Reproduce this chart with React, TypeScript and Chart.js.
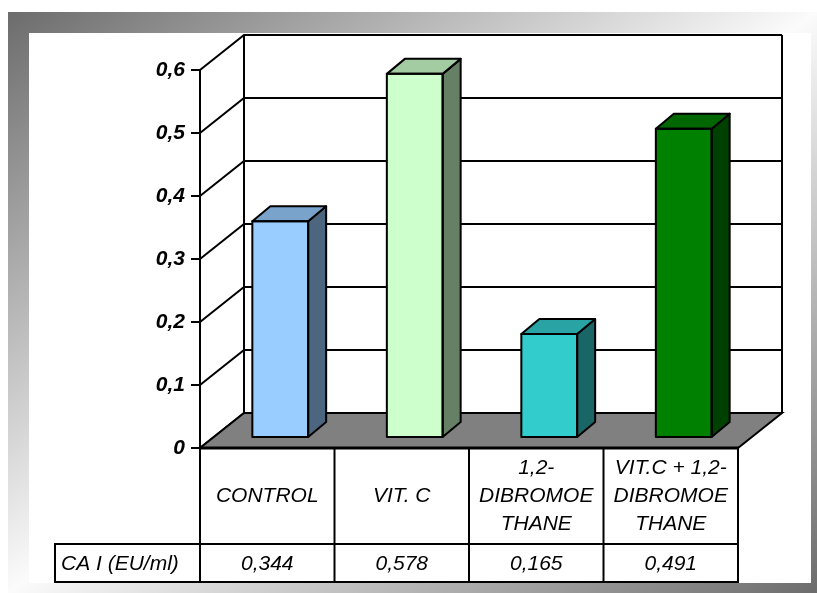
import React, { useEffect, useRef } from 'react';
import { Chart, registerables } from 'chart.js';

Chart.register(...registerables);

// ---- data ----
const categories: string[][] = [
  ['CONTROL'],
  ['VIT. C'],
  ['1,2-', 'DIBROMOE', 'THANE'],
  ['VIT.C + 1,2-', 'DIBROMOE', 'THANE'],
];
const values: number[] = [0.344, 0.578, 0.165, 0.491];
const seriesName = 'CA I (EU/ml)';
const yTickLabels: string[] = ['0', '0,1', '0,2', '0,3', '0,4', '0,5', '0,6'];

// ---- styles ----
const frontColors = ['#99CCFF', '#CCFFCC', '#33CCCC', '#008000'];
const topColors = ['#7AA3CC', '#A3CCA3', '#29A3A3', '#006600'];
const sideColors = ['#4D6680', '#668066', '#1A6666', '#004000'];

const W = 817;
const H = 593;
const DEPTH = { x: 44, y: -35 };
const BAR_OFF = { x: 13, y: -10 };
const BAR_DEPTH = { x: 18, y: -15 };
const FONT = '"Liberation Sans", Arial, sans-serif';
const TABLE_ROW1_BOTTOM = 544;
const TABLE_BOTTOM = 582;
const TABLE_LEFT = 55;

const threeD = {
  id: 'threeD',
  beforeDraw(chart: any) {
    const { ctx, chartArea: a, scales } = chart;
    const y = scales.y;
    ctx.save();
    ctx.fillStyle = '#fff';
    ctx.fillRect(0, 0, W, H);
    // gradient frame
    const fx0 = 8, fy0 = 12, fx1 = W, fy1 = H;
    const cx = (fx0 + fx1) / 2, cy = (fy0 + fy1) / 2;
    const ax = fx1 - fx0, ay = fy1 - fy0;
    const n = Math.hypot(ax, ay);
    const dx = ay / n, dy = ax / n;
    const t = (fx0 - cx) * dx + (fy0 - cy) * dy;
    const g = ctx.createLinearGradient(cx + t * dx, cy + t * dy, cx - t * dx, cy - t * dy);
    g.addColorStop(0, '#6c6c6c');
    g.addColorStop(0.5, '#fbfbfb');
    g.addColorStop(1, '#6c6c6c');
    ctx.fillStyle = g;
    ctx.fillRect(fx0, fy0, fx1 - fx0, fy1 - fy0);
    ctx.fillStyle = '#fff';
    ctx.fillRect(29, 33, 811 - 29, 583 - 33);

    const L = a.left, R = a.right, B = a.bottom, T = a.top;
    ctx.strokeStyle = '#000';
    ctx.lineWidth = 2;
    ctx.lineJoin = 'miter';
    // gridlines on side wall + back wall
    y.ticks.forEach((tk: any) => {
      const py = y.getPixelForValue(tk.value);
      ctx.beginPath();
      ctx.moveTo(L, py);
      ctx.lineTo(L + DEPTH.x, py + DEPTH.y);
      ctx.lineTo(R + DEPTH.x, py + DEPTH.y);
      ctx.stroke();
    });
    // back wall verticals
    ctx.beginPath();
    ctx.moveTo(L + DEPTH.x, T + DEPTH.y);
    ctx.lineTo(L + DEPTH.x, B + DEPTH.y);
    ctx.moveTo(R + DEPTH.x, T + DEPTH.y);
    ctx.lineTo(R + DEPTH.x, B + DEPTH.y);
    ctx.stroke();
    // floor
    ctx.beginPath();
    ctx.moveTo(L, B);
    ctx.lineTo(R, B);
    ctx.lineTo(R + DEPTH.x, B + DEPTH.y);
    ctx.lineTo(L + DEPTH.x, B + DEPTH.y);
    ctx.closePath();
    ctx.fillStyle = '#808080';
    ctx.fill();
    ctx.stroke();
    ctx.restore();
  },
  beforeDatasetsDraw(chart: any) {
    chart.ctx.save();
    chart.ctx.translate(BAR_OFF.x, BAR_OFF.y);
  },
  afterDatasetsDraw(chart: any) {
    const { ctx } = chart;
    const meta = chart.getDatasetMeta(0);
    ctx.lineWidth = 2;
    ctx.strokeStyle = '#000';
    ctx.lineJoin = 'round';
    meta.data.forEach((el: any, i: number) => {
      const p = el.getProps(['x', 'y', 'base', 'width'], true);
      const x0 = p.x - p.width / 2, x1 = p.x + p.width / 2;
      const yt = p.y, yb = p.base;
      // side
      ctx.beginPath();
      ctx.moveTo(x1, yt);
      ctx.lineTo(x1 + BAR_DEPTH.x, yt + BAR_DEPTH.y);
      ctx.lineTo(x1 + BAR_DEPTH.x, yb + BAR_DEPTH.y);
      ctx.lineTo(x1, yb);
      ctx.closePath();
      ctx.fillStyle = sideColors[i];
      ctx.fill();
      ctx.stroke();
      // top
      ctx.beginPath();
      ctx.moveTo(x0, yt);
      ctx.lineTo(x0 + BAR_DEPTH.x, yt + BAR_DEPTH.y);
      ctx.lineTo(x1 + BAR_DEPTH.x, yt + BAR_DEPTH.y);
      ctx.lineTo(x1, yt);
      ctx.closePath();
      ctx.fillStyle = topColors[i];
      ctx.fill();
      ctx.stroke();
      // front outline
      ctx.strokeRect(x0, yt, x1 - x0, yb - yt);
    });
    ctx.restore();
  },
  afterDraw(chart: any) {
    const { ctx, chartArea: a, scales } = chart;
    const x = scales.x;
    const L = a.left, R = a.right, B = a.bottom;
    ctx.save();
    ctx.strokeStyle = '#000';
    // thick front floor edge
    ctx.lineWidth = 3;
    ctx.beginPath();
    ctx.moveTo(L - 1, B);
    ctx.lineTo(R + 1, B);
    ctx.stroke();
    ctx.lineWidth = 2;
    ctx.beginPath();
    const n = categories.length;
    for (let i = 0; i <= n; i++) {
      const px = L + ((R - L) * i) / n;
      ctx.moveTo(px, B);
      ctx.lineTo(px, TABLE_BOTTOM);
    }
    ctx.moveTo(TABLE_LEFT, TABLE_ROW1_BOTTOM);
    ctx.lineTo(R + 1, TABLE_ROW1_BOTTOM);
    ctx.moveTo(TABLE_LEFT, TABLE_BOTTOM);
    ctx.lineTo(R + 1, TABLE_BOTTOM);
    ctx.moveTo(TABLE_LEFT, TABLE_ROW1_BOTTOM - 1);
    ctx.lineTo(TABLE_LEFT, TABLE_BOTTOM + 1);
    ctx.stroke();

    ctx.fillStyle = '#000';
    ctx.font = `italic 21px ${FONT}`;
    ctx.textBaseline = 'middle';
    ctx.textAlign = 'center';
    const row1c = (B + TABLE_ROW1_BOTTOM) / 2;
    const row2c = (TABLE_ROW1_BOTTOM + TABLE_BOTTOM) / 2 + 1;
    categories.forEach((lines, i) => {
      const cxp = x.getPixelForValue(i);
      lines.forEach((ln, k) => {
        ctx.fillText(ln, cxp, row1c + (k - (lines.length - 1) / 2) * 28);
      });
      ctx.fillText(values[i].toFixed(3).replace('.', ','), cxp, row2c);
    });
    ctx.textAlign = 'left';
    ctx.fillText(seriesName, TABLE_LEFT + 6, row2c);
    ctx.restore();
  },
};

export default function App() {
  const ref = useRef<HTMLCanvasElement | null>(null);
  useEffect(() => {
    if (!ref.current) return;
    const chart = new Chart(ref.current, {
      type: 'bar',
      data: {
        labels: categories.map((c) => c.join(' ')),
        datasets: [
          {
            label: seriesName,
            data: values,
            backgroundColor: frontColors,
            borderWidth: 0,
            barPercentage: 0.415,
            categoryPercentage: 1,
            clip: false as any,
          },
        ],
      },
      options: {
        responsive: false,
        animation: false,
        events: [],
        layout: { padding: { left: 0, top: 70, right: 79, bottom: 145 } },
        plugins: { legend: { display: false }, tooltip: { enabled: false } },
        scales: {
          x: { display: false, offset: true },
          y: {
            min: 0,
            max: 0.6,
            ticks: {
              stepSize: 0.1,
              color: '#000',
              padding: 6,
              font: { family: FONT, size: 21, weight: 'bold', style: 'italic' },
              callback: (_v: any, i: number) => yTickLabels[i],
            },
            grid: { drawOnChartArea: false, drawTicks: true, tickLength: 9, color: '#000', lineWidth: 2 },
            border: { display: true, color: '#000', width: 2 },
            afterFit: (s: any) => {
              s.width = 200;
            },
          },
        },
      },
      plugins: [threeD],
    } as any);
    return () => chart.destroy();
  }, []);
  return (
    <div style={{ position: 'fixed', left: 0, top: 0, width: W, height: H }}>
      <canvas ref={ref} width={W} height={H} style={{ display: 'block', width: W, height: H }} />
    </div>
  );
}
